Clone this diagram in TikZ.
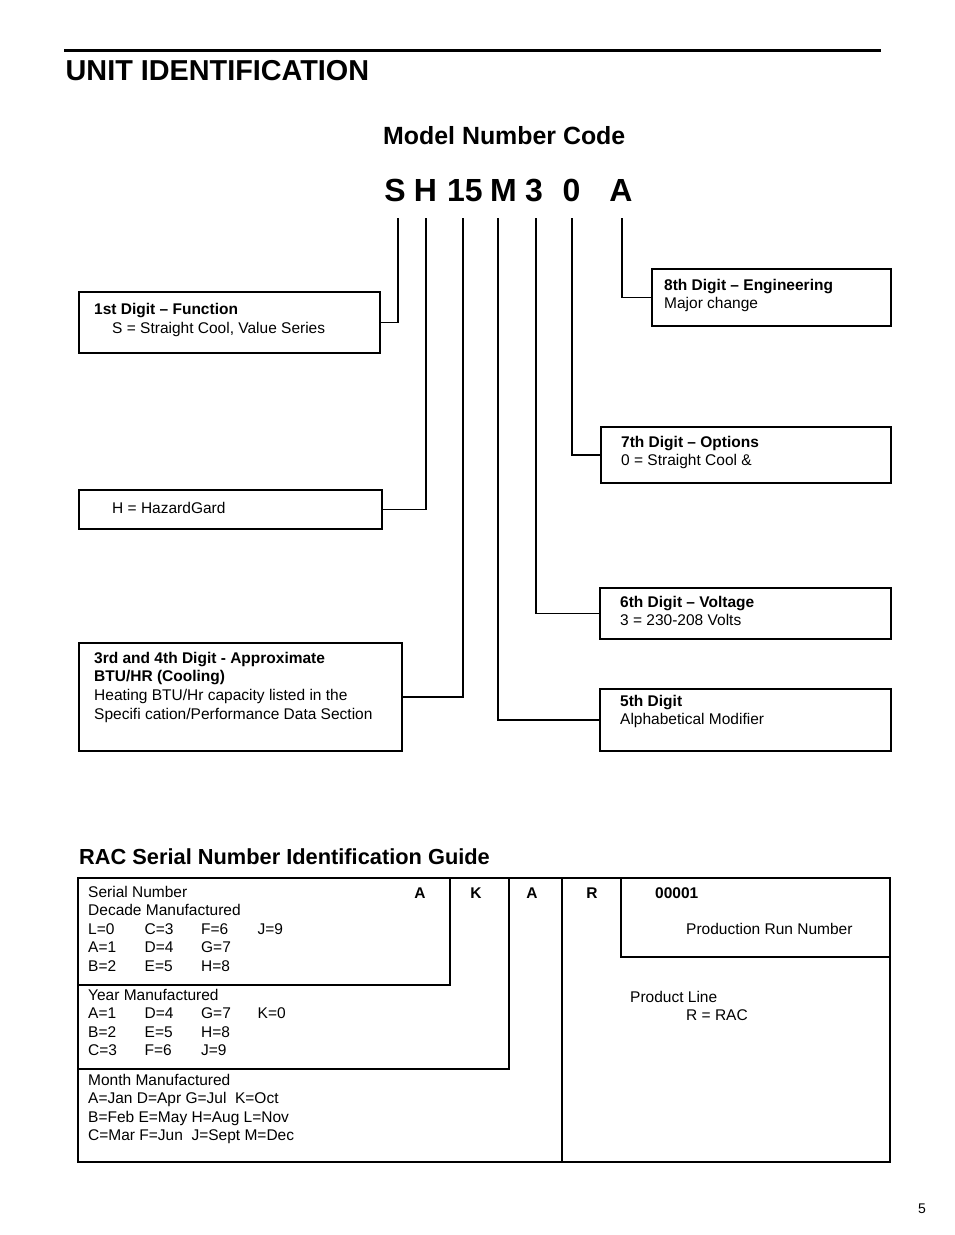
\documentclass[tikz,border=0pt]{standalone}
\usepackage{fontspec}
\setmainfont{Liberation Sans}
\newcommand{\ml}[1]{\begin{tabular}[t]{@{}l@{}}#1\end{tabular}}
\newcommand{\cc}[1]{\makebox[56.5pt][l]{#1}}
\tikzset{
  boxed/.style={draw, line width=1.8pt, inner sep=0pt, anchor=north west},
  conn/.style={line width=1.5pt},
  tbl/.style={line width=1.8pt},
  tblthin/.style={line width=1.2pt},
  txt/.style={anchor=base west, inner sep=0pt, font=\fontsize{15.5}{18.7}\selectfont},
  btxt/.style={anchor=base west, inner sep=0pt, font=\fontsize{15.5}{18.7}\selectfont\bfseries},
  tbtxt/.style={anchor=base west, inner sep=0pt, font=\fontsize{15.5}{18.5}\selectfont},
  code/.style={anchor=base, inner sep=0pt, font=\fontsize{32}{36}\selectfont\bfseries},
  lett/.style={anchor=base, inner sep=0pt, font=\fontsize{15.5}{18}\selectfont\bfseries},
}
\begin{document}
\begin{tikzpicture}[x=1pt,y=-1pt]
\useasboundingbox (0,0) rectangle (954,1235);
% header
\coordinate (rl) at (64,50);
\coordinate (rr) at (881,50);
\draw[line width=3pt] (rl) -- (rr);
\node[anchor=base west, inner sep=0pt, font=\fontsize{28.8}{30}\selectfont\bfseries] (title) at (65.5,80.5) {UNIT IDENTIFICATION};
\node[anchor=base west, inner sep=0pt, font=\fontsize{24.9}{28}\selectfont\bfseries] (mnc) at (383,144) {Model Number Code};
% code letters
\node[code] (cS) at (395,201) {S};
\node[code] (cH) at (425.5,201) {H};
\node[code] (c15) at (465,201) {15};
\node[code] (cM) at (503.5,201) {M};
\node[code] (c3) at (534,201) {3};
\node[code] (c0) at (571.5,201) {0};
\node[code] (cA) at (621,201) {A};
\coordinate (tS) at (398,218);
\coordinate (tH) at (426,218);
\coordinate (t15) at (463,218);
\coordinate (tM) at (498,218);
\coordinate (t3) at (536,218);
\coordinate (t0) at (572,218);
\coordinate (tA) at (622,218);
% boxes
\node[boxed, minimum width=301pt, minimum height=61pt] (b1) at (78,291) {};
\node[boxed, minimum width=303pt, minimum height=39pt] (bH) at (78,489) {};
\node[boxed, minimum width=323pt, minimum height=108pt] (b34) at (78,642) {};
\node[boxed, minimum width=239pt, minimum height=57pt] (b8) at (651,268) {};
\node[boxed, minimum width=290pt, minimum height=56pt] (b7) at (600,426) {};
\node[boxed, minimum width=291pt, minimum height=51pt] (b6) at (599,587) {};
\node[boxed, minimum width=291pt, minimum height=62pt] (b5) at (599,688) {};
% box texts
\node[btxt] (t1a) at (94,314) {1st Digit -- Function};
\node[txt] (t1b) at (112,333) {S = Straight Cool, Value Series};
\node[txt] (tHa) at (112,513) {H = HazardGard};
\node[btxt] (t34a) at (94,663) {\ml{3rd and 4th Digit - Approximate\\BTU/HR (Cooling)}};
\node[txt] (t34b) at (94,700.4) {\ml{Heating BTU/Hr capacity listed in the\\Specifi cation/Performance Data Section}};
\node[btxt] (t8a) at (664,290) {8th Digit -- Engineering};
\node[txt] (t8b) at (664,308.7) {Major change};
\node[btxt] (t7a) at (621,447) {7th Digit -- Options};
\node[txt] (t7b) at (621,465.7) {0 = Straight Cool \&};
\node[btxt] (t6a) at (620,607) {6th Digit -- Voltage};
\node[txt] (t6b) at (620,625.7) {3 = 230-208 Volts};
\node[btxt] (t5a) at (620,706) {5th Digit};
\node[txt] (t5b) at (620,724.7) {Alphabetical Modifier};
% connectors
\draw[conn] (tS) |- (b1.east);
\draw[conn] (tH) |- (bH.east);
\draw[conn] (t15) |- (b34.east);
\draw[conn] (tM) |- (b5.west);
\draw[conn] (t3) |- (b6.west);
\draw[conn] (t0) |- (b7.west);
\draw[conn] (tA) |- (b8.west);
% serial guide
\node[anchor=base west, inner sep=0pt, font=\fontsize{21.8}{24}\selectfont\bfseries] (rac) at (79,864) {RAC Serial Number Identification Guide};
\draw[tbl] (78,878) rectangle (890,1162);
\draw[tbl] (78,985) -| (450,878);
\draw[tbl] (78,1069) -| (509,878);
\draw[tblthin] (562,878) -- (562,1162);
\draw[tbl] (621,878) |- (890,957);
\node[tbtxt] (dec) at (88,897) {\ml{Serial Number\\Decade Manufactured\\
  \cc{L=0}\cc{C=3}\cc{F=6}J=9\\
  \cc{A=1}\cc{D=4}G=7\\
  \cc{B=2}\cc{E=5}H=8}};
\node[tbtxt] (yr) at (88,1000) {\ml{Year Manufactured\\
  \cc{A=1}\cc{D=4}\cc{G=7}K=0\\
  \cc{B=2}\cc{E=5}H=8\\
  \cc{C=3}\cc{F=6}J=9}};
\node[tbtxt] (mo) at (88,1085) {\ml{Month Manufactured\\
  A=Jan D=Apr G=Jul\ \ K=Oct\\
  B=Feb E=May H=Aug L=Nov\\
  C=Mar F=Jun\ \ J=Sept M=Dec}};
\node[lett] (lA1) at (420,898) {A};
\node[lett] (lK) at (476,898) {K};
\node[lett] (lA2) at (532,898) {A};
\node[lett] (lR) at (592,898) {R};
\node[btxt] (run) at (655,898) {00001};
\node[txt] (prn) at (686,934) {Production Run Number};
\node[txt] (pl) at (630,1002) {Product Line};
\node[txt] (rrac) at (686,1020) {R = RAC};
% page number
\node[anchor=base, inner sep=0pt, font=\fontsize{14}{16}\selectfont] (pg) at (922,1213) {5};
\end{tikzpicture}
\end{document}
